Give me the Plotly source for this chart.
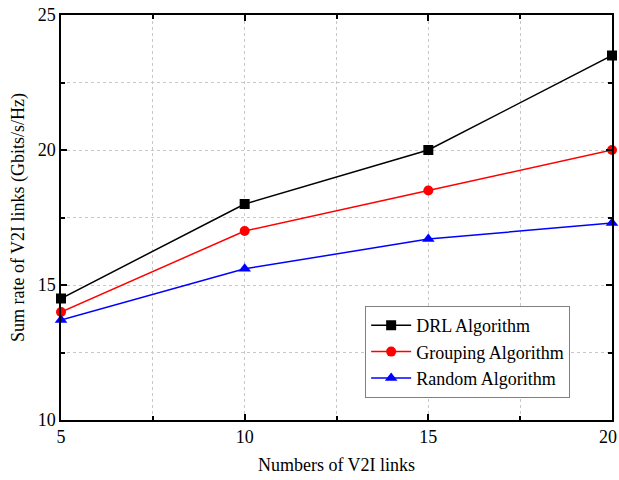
import plotly.graph_objects as go

links = [5, 10, 15, 20]
drl = [14.5, 18.0, 20.0, 23.5]
grouping = [14.0, 17.0, 18.5, 20.0]
random_alg = [13.7, 15.6, 16.7, 17.3]

x_ticks = [5, 10, 15, 20]
y_ticks = [10, 15, 20, 25]

series = [
    ("DRL Algorithm", drl, "black", "square"),
    ("Grouping Algorithm", grouping, "red", "circle"),
    ("Random Algorithm", random_alg, "blue", "triangle-up"),
]

fig = go.Figure()
for name, vals, col, sym in series:
    fig.add_trace(go.Scatter(
        x=links, y=vals, name=name, mode="lines+markers",
        line=dict(color=col, width=1.5),
        marker=dict(symbol=sym, size=10 if sym != "triangle-up" else 11, color=col),
        cliponaxis=False,
    ))

font_family = "Liberation Serif"
axis_common = dict(
    showline=True, linecolor="black", linewidth=1.5, mirror="allticks",
    ticks="inside", ticklen=6, tickwidth=1.5, tickcolor="black",
    showgrid=True, gridcolor="#c8c8c8", griddash="dot", gridwidth=1,
    zeroline=False, automargin=False, ticklabeloverflow="allow",
    tickfont=dict(family=font_family, size=18, color="black"),
)

# last x tick label is drawn as an annotation pinned to the right edge so it stays visible
x_ticktext = [str(v) for v in x_ticks[:-1]] + [""]

fig.update_xaxes(
    range=[5, 20], tickvals=x_ticks, ticktext=x_ticktext,
    title=dict(text="Numbers of V2I links", font=dict(family=font_family, size=18, color="black"), standoff=12),
    minor=dict(dtick=2.5, tick0=5, ticks="inside", ticklen=4, tickwidth=1.5, tickcolor="black",
               showgrid=True, gridcolor="#c8c8c8", griddash="dot", gridwidth=1),
    **axis_common,
)
fig.update_yaxes(
    range=[10, 25], tickvals=y_ticks, ticktext=[str(v) for v in y_ticks],
    title=dict(text="Sum rate of V2I links (Gbits/s/Hz)", font=dict(family=font_family, size=18, color="black"), standoff=8),
    minor=dict(dtick=2.5, tick0=10, ticks="inside", ticklen=4, tickwidth=1.5, tickcolor="black",
               showgrid=True, gridcolor="#c8c8c8", griddash="dot", gridwidth=1),
    **axis_common,
)

fig.add_annotation(
    x=x_ticks[-1], xref="x", y=0, yref="paper",
    text=str(x_ticks[-1]), showarrow=False,
    xanchor="right", yanchor="top", xshift=7, yshift=-5,
    font=dict(family=font_family, size=18, color="black"),
)

fig.update_layout(
    width=619, height=480,
    margin=dict(l=61, r=7, t=15, b=60, autoexpand=False),
    paper_bgcolor="white", plot_bgcolor="white",
    showlegend=True,
    legend=dict(
        x=0.552, y=0.2815, xanchor="left", yanchor="top",
        bgcolor="white", bordercolor="#808080", borderwidth=1,
        font=dict(family=font_family, size=18, color="black"),
        tracegroupgap=0, itemwidth=40,
    ),
)

fig.write_html(
    "out.html",
    config={"displayModeBar": False},
    post_script="document.body.style.margin='0';document.body.style.overflow='hidden';",
)
